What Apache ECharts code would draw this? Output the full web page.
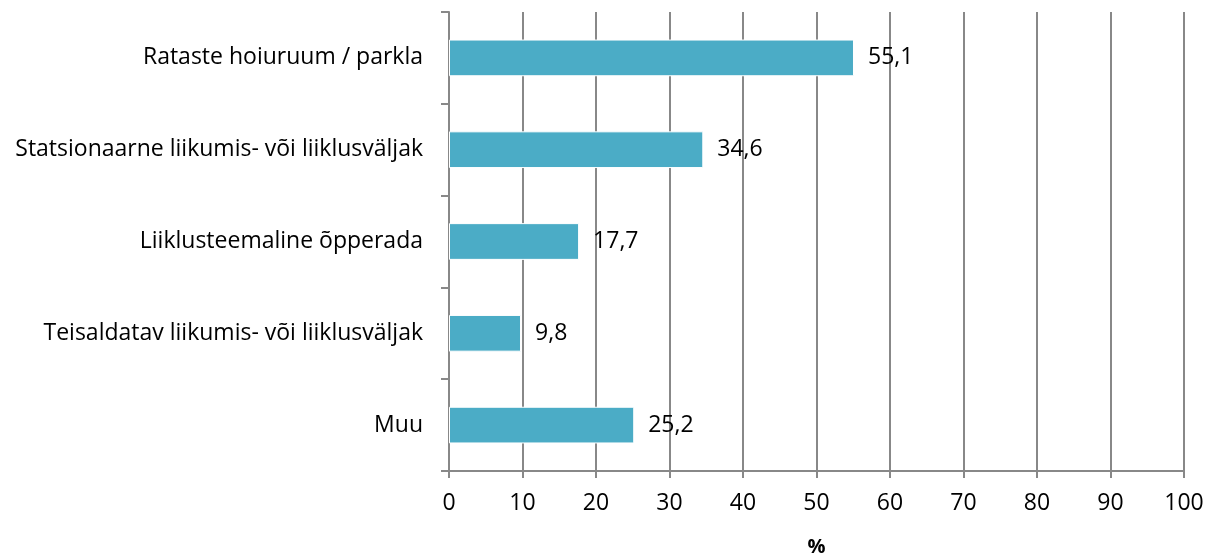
<!DOCTYPE html>
<html><head><meta charset="utf-8">
<script src="https://cdn.jsdelivr.net/npm/echarts@6/dist/echarts.min.js"></script>
<style>html,body{margin:0;padding:0;background:#fff}#c{width:1212px;height:559px}</style>
</head><body><div id="c"></div>
<script>
const categories = ["Rataste hoiuruum / parkla","Statsionaarne liikumis- või liiklusväljak","Liiklusteemaline õpperada","Teisaldatav liikumis- või liiklusväljak","Muu"];
const values = [55.1, 34.6, 17.7, 9.8, 25.2];
const xTicks = [0,10,20,30,40,50,60,70,80,90,100];
const axisName = "%";
const font = "'Open Sans', sans-serif";
const fs = 23;
const chart = echarts.init(document.getElementById('c'));
chart.setOption({
  animation:false,
  grid:{left:449,right:28,top:12,bottom:88,containLabel:false,outerBoundsMode:'none'},
  xAxis:{type:'value',min:xTicks[0],max:xTicks[xTicks.length-1],interval:10,
    name:axisName,nameLocation:'middle',nameGap:66,
    nameTextStyle:{fontFamily:font,fontSize:20,fontWeight:'bold',color:'#000'},
    axisLine:{show:true,lineStyle:{color:'#888',width:2}},
    axisTick:{show:true,length:7,lineStyle:{color:'#888',width:2}},
    axisLabel:{fontFamily:font,fontSize:fs,color:'#000',margin:21},
    splitLine:{show:true,lineStyle:{color:'#888',width:2}}},
  yAxis:{type:'category',data:categories.slice().reverse(),
    axisLine:{show:true,lineStyle:{color:'#888',width:2}},
    axisTick:{show:true,length:8,lineStyle:{color:'#888',width:2}},
    axisLabel:{fontFamily:font,fontSize:fs,color:'#000',margin:26}},
  series:[{type:'bar',data:values.slice().reverse(),barWidth:'40%',
    itemStyle:{color:'#4BACC6',borderColor:'#fff',borderWidth:1},
    label:{show:true,position:'right',distance:14,fontFamily:font,fontSize:fs,color:'#000',
      formatter:p=>String(p.value).replace('.',',')}}]
});
</script></body></html>
